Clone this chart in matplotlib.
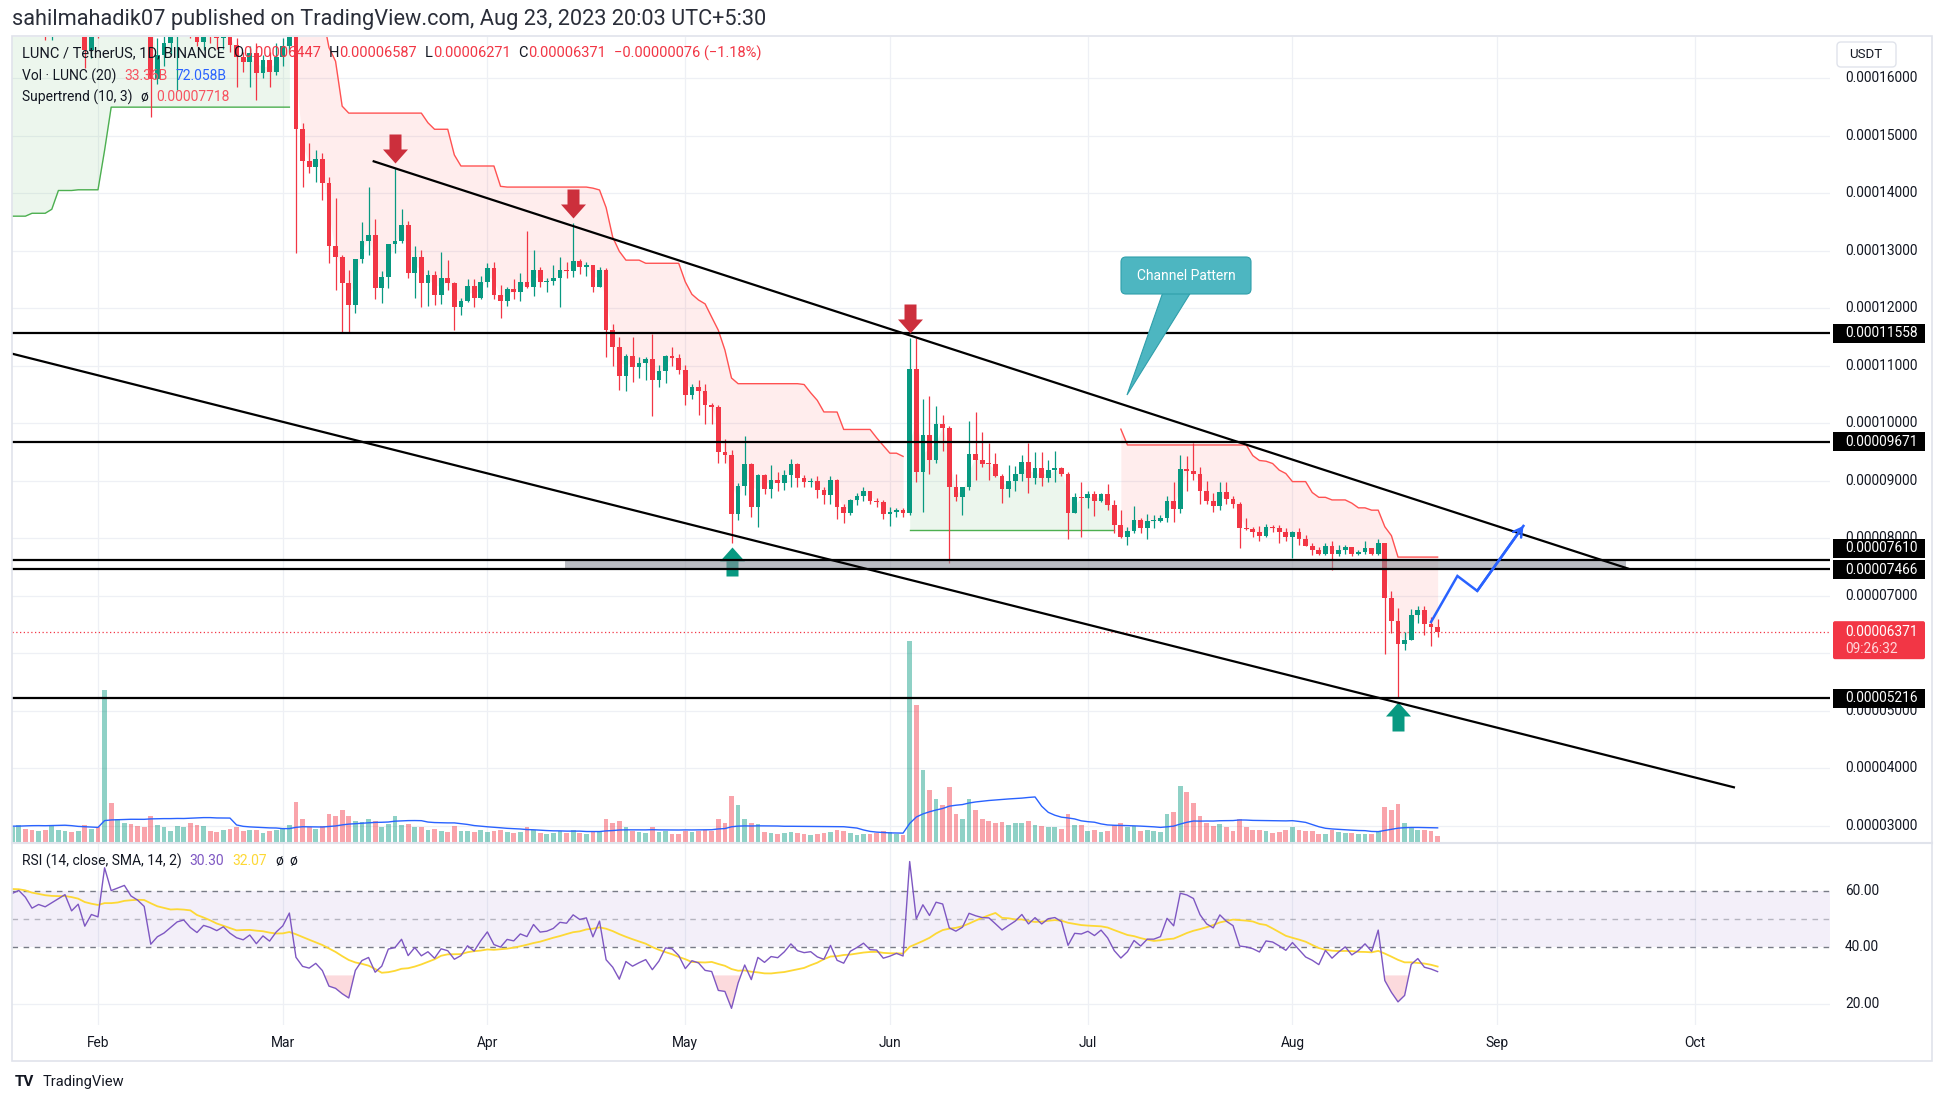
import numpy as np
import pandas as pd
import matplotlib
matplotlib.use("Agg")
import matplotlib.pyplot as plt
from matplotlib.path import Path
from matplotlib.markers import MarkerStyle
from matplotlib.patches import Rectangle, FancyBboxPatch, Polygon
from matplotlib.lines import Line2D
from matplotlib.transforms import IdentityTransform

plt.rcParams['font.family'] = ['Roboto', 'DejaVu Sans']
plt.rcParams['axes.unicode_minus'] = False

# ------------------------------------------------------------------ data
FIRST_DAY = "2023-01-01"      # index 0 of every daily series
PRICE_UNIT = 1e-5             # prices below are in units of 0.00001 USDT
OPEN_FIRST = 15.0             # open of the first candle; later opens = previous close

close_jan = [15.6, 15.2, 15.5, 16.3, 15.7, 15.9, 15.6, 16.5, 17.4, 16.8, 17.3, 18.2, 17.5, 18.6, 17.9, 18.2,
             17.6, 17.2, 17.6, 17.8, 17.5, 17.0, 17.2, 17.1, 17.3, 17.5, 17.7, 17.1, 17.4, 16.49, 17.0]
high_jan = [16.0, 15.9, 16.0, 16.7, 16.5, 16.5, 16.2, 16.8, 17.8, 17.6, 17.8, 18.6, 18.4, 19.0, 18.7, 18.7,
            18.3, 17.8, 18.2, 18.0, 17.9, 17.9, 17.6, 17.5, 17.7, 17.8, 17.9, 17.8, 17.6, 17.5, 17.2]
low_jan = [14.5, 14.4, 14.5, 15.2, 15.0, 15.0, 14.7, 15.3, 16.3, 16.1, 15.9, 16.7, 16.5, 17.1, 17.65, 17.65,
           17.25, 16.75, 17.15, 17.2, 17.0, 16.95, 16.9, 16.66, 16.66, 17.0, 16.8, 16.8, 16.9, 16.17, 16.34]

close_feb = [16.9, 20.0, 18.9, 19.1, 19.3, 18.8, 18.6, 18.3, 15.99, 16.4, 16.6, 16.9, 17.2, 17.3, 16.9, 16.63,
             16.95, 16.85, 16.7, 16.85, 16.57, 16.37, 16.28, 16.43, 16.08, 16.31, 16.11, 16.37]
high_feb = [17.3, 20.3, 20.2, 19.6, 19.6, 19.4, 19.0, 18.7, 18.4, 16.7, 16.9, 17.1, 17.4, 17.6, 17.4, 17.0,
            17.1, 17.1, 17.0, 17.1, 16.95, 16.7, 16.45, 16.55, 16.6, 16.4, 16.45, 16.6]
low_feb = [16.7, 16.8, 18.6, 18.7, 18.6, 18.5, 18.2, 17.9, 15.33, 15.9, 16.2, 16.4, 15.79, 16.9, 16.7, 16.55,
           16.49, 16.6, 16.5, 16.5, 16.45, 15.85, 16.1, 15.85, 15.62, 16.0, 15.85, 16.05]

close_mar = [16.55, 16.95, 15.11, 14.56, 14.45, 14.59, 14.17, 13.07, 12.89, 12.44, 12.05, 12.85, 13.17, 13.27,
             12.35, 12.54, 13.11, 13.16, 13.44, 12.61, 12.88, 12.44, 12.57, 12.23, 12.52, 12.43, 12.02, 12.12,
             12.39, 12.17, 12.45]
high_mar = [16.7, 17.3, 17.0, 15.21, 14.87, 14.75, 14.70, 14.28, 13.91, 12.92, 12.66, 12.86, 13.49, 14.11,
            13.55, 12.64, 13.12, 14.43, 13.73, 13.51, 13.07, 13.01, 12.66, 12.64, 12.98, 12.83, 12.46, 12.17,
            12.5, 12.50, 12.56]
low_mar = [16.2, 16.45, 12.95, 14.1, 14.34, 14.2, 13.88, 12.78, 12.31, 11.56, 11.59, 11.91, 12.78, 12.93,
           12.15, 12.08, 12.35, 12.96, 13.13, 12.53, 12.17, 12.02, 12.04, 12.06, 12.07, 12.32, 11.62, 11.87,
           12.11, 12.02, 12.15]

close_apr = [12.70, 12.23, 12.13, 12.33, 12.28, 12.45, 12.37, 12.66, 12.45, 12.47, 12.53, 12.66, 12.64, 12.81,
             12.72, 12.75, 12.37, 12.66, 11.61, 11.33, 10.81, 11.17, 10.98, 11.05, 11.11, 10.74, 10.90, 11.16,
             11.13, 10.93]
high_apr = [12.78, 12.8, 12.40, 12.37, 12.50, 12.61, 13.34, 13.01, 12.72, 12.52, 12.75, 12.89, 12.8, 13.47,
            12.85, 12.8, 12.75, 12.71, 12.69, 11.73, 11.49, 11.20, 11.5, 11.14, 11.15, 11.55, 11.01, 11.18,
            11.33, 11.2]
low_apr = [12.37, 12.15, 11.83, 12.03, 12.16, 12.13, 12.34, 12.21, 12.37, 12.27, 12.40, 12.02, 12.53, 12.54,
           12.60, 12.56, 12.28, 12.36, 11.14, 11.0, 10.57, 10.56, 10.72, 10.78, 10.74, 10.13, 10.63, 10.69,
           11.0, 10.85]

close_may = [10.49, 10.63, 10.56, 10.31, 10.27, 9.50, 9.45, 8.42, 8.90, 9.29, 8.54, 9.10, 8.86, 9.01, 8.96,
             9.10, 9.29, 9.05, 8.98, 9.0, 8.83, 8.75, 9.01, 8.54, 8.44, 8.66, 8.73, 8.81, 8.64, 8.63, 8.42]
high_may = [11.01, 10.68, 10.74, 10.68, 10.35, 10.31, 9.73, 9.53, 8.96, 9.77, 9.30, 9.11, 9.12, 9.27, 9.15,
            9.18, 9.38, 9.30, 9.1, 9.05, 9.07, 8.89, 9.08, 9.02, 8.59, 8.67, 8.78, 8.88, 8.82, 8.69, 8.66]
low_may = [10.32, 10.42, 10.14, 9.99, 9.99, 9.31, 9.31, 7.92, 8.32, 8.75, 8.37, 8.2, 8.76, 8.70, 8.82,
           8.83, 8.89, 8.89, 8.89, 8.89, 8.69, 8.59, 8.59, 8.33, 8.26, 8.40, 8.57, 8.65, 8.59, 8.54, 8.33]

close_jun = [8.45, 8.49, 8.43, 10.94, 9.15, 9.79, 9.35, 9.98, 9.91, 8.88, 8.72, 8.88, 9.46, 9.36, 9.29, 9.28,
             9.07, 8.85, 8.99, 9.12, 9.32, 9.04, 9.22, 9.04, 9.18, 9.21, 9.11, 8.44, 8.72, 8.70]
high_jun = [8.54, 8.52, 8.52, 11.47, 11.47, 10.41, 10.47, 10.3, 10.14, 9.94, 9.12, 8.89, 10.04, 10.19, 9.85,
            9.65, 9.48, 9.11, 9.27, 9.25, 9.44, 9.65, 9.50, 9.50, 9.36, 9.51, 9.23, 9.14, 8.78, 8.98]
low_jun = [8.21, 8.37, 8.36, 8.40, 8.98, 8.45, 9.12, 9.30, 9.52, 7.57, 8.64, 8.4, 8.83, 9.01, 9.23, 9.01,
           9.06, 8.61, 8.72, 8.81, 8.99, 8.79, 8.94, 8.90, 8.98, 8.98, 9.07, 7.99, 8.44, 8.02]

close_jul = [8.76, 8.65, 8.76, 8.57, 8.23, 8.01, 8.12, 8.32, 8.18, 8.30, 8.30, 8.34, 8.65, 8.51, 9.20, 9.17,
             9.11, 8.82, 8.64, 8.56, 8.80, 8.68, 8.60, 8.17, 8.15, 8.11, 8.04, 8.19, 8.17, 8.10, 8.02]
high_jul = [8.82, 8.81, 8.78, 8.94, 8.66, 8.49, 8.20, 8.55, 8.35, 8.41, 8.40, 8.40, 8.73, 8.98, 9.44, 9.43,
            9.66, 9.23, 8.99, 8.78, 8.98, 8.98, 8.73, 8.63, 8.34, 8.2, 8.21, 8.24, 8.23, 8.23, 8.17]
low_jul = [8.53, 8.39, 8.63, 8.49, 8.09, 8.0, 7.87, 8.09, 8.09, 7.98, 8.17, 8.28, 8.27, 8.27, 8.44, 8.82,
           9.01, 8.59, 8.60, 8.46, 8.49, 8.60, 8.53, 7.82, 8.14, 8.02, 7.95, 8.01, 8.11, 7.92, 7.95]

close_aug = [8.11, 7.99, 7.86, 7.80, 7.72, 7.86, 7.73, 7.79, 7.84, 7.72, 7.76, 7.82, 7.72, 7.92, 6.96, 6.56,
             6.15, 6.23, 6.66, 6.75, 6.50, 6.447, 6.371]
high_aug = [8.12, 8.18, 8.05, 7.91, 7.85, 7.91, 7.95, 7.88, 7.88, 7.85, 7.79, 7.94, 7.82, 7.98, 7.92, 7.07,
            6.78, 6.37, 6.77, 6.82, 6.82, 6.62, 6.587]
low_aug = [7.65, 7.88, 7.86, 7.70, 7.70, 7.70, 7.45, 7.69, 7.73, 7.69, 7.70, 7.73, 7.70, 7.70, 5.99, 6.34,
           5.21, 6.05, 6.22, 6.52, 6.31, 6.12, 6.271]

vol_jan = [40, 45, 50, 70, 55, 50, 40, 90, 120, 110, 95, 100, 80, 120, 90, 70, 65, 80, 70, 80, 65, 60, 55,
           60, 75, 60, 55, 50, 55, 80, 65]
vol_feb = [70, 690, 180, 110, 90, 85, 75, 70, 120, 80, 70, 55, 75, 70, 90, 80, 75, 55, 50, 60, 65, 70, 55,
           60, 60, 45, 55, 60]
vol_mar = [65, 80, 185, 110, 70, 65, 75, 130, 120, 150, 120, 100, 95, 110, 100, 70, 85, 120, 80, 85, 70, 70,
           60, 65, 55, 50, 75, 55, 55, 50, 60]
vol_apr = [50, 55, 60, 50, 45, 50, 70, 60, 45, 40, 45, 55, 45, 60, 45, 40, 55, 50, 110, 90, 100, 70, 55, 50,
           45, 70, 50, 55, 40, 40]
vol_may = [55, 50, 55, 60, 55, 110, 90, 210, 170, 110, 90, 85, 50, 45, 40, 45, 50, 45, 40, 35, 40, 45, 50,
           60, 55, 45, 35, 40, 40, 45, 55]
vol_jun = [50, 40, 35, 910, 620, 330, 240, 200, 170, 250, 130, 110, 200, 150, 110, 100, 90, 95, 80, 90, 90,
           100, 80, 75, 70, 70, 65, 130, 80, 80]
vol_jul = [55, 60, 50, 55, 80, 90, 70, 75, 55, 60, 55, 50, 130, 140, 255, 230, 180, 120, 90, 75, 85, 70, 55,
           110, 70, 60, 60, 55, 45, 50, 60]
vol_aug = [70, 60, 55, 55, 40, 40, 60, 50, 45, 45, 40, 40, 40, 55, 160, 150, 175, 90, 70, 60, 60, 55, 33.36]

month_labels = ["Feb", "Mar", "Apr", "May", "Jun", "Jul", "Aug", "Sep", "Oct"]
price_ticks = list(range(3, 17))                 # x 0.00001
level_prices = [11.558, 9.671, 7.610, 7.466, 5.216]
rsi_ticks = [60, 40, 20]

# ------------------------------------------------------------------ series
close = np.array(close_jan + close_feb + close_mar + close_apr + close_may + close_jun + close_jul + close_aug)
high = np.array(high_jan + high_feb + high_mar + high_apr + high_may + high_jun + high_jul + high_aug)
low = np.array(low_jan + low_feb + low_mar + low_apr + low_may + low_jun + low_jul + low_aug)
vol = np.array(vol_jan + vol_feb + vol_mar + vol_apr + vol_may + vol_jun + vol_jul + vol_aug, float)
n = len(close)
opn = np.r_[OPEN_FIRST, close[:-1]]
high = np.maximum(high, np.maximum(opn, close))
low = np.minimum(low, np.minimum(opn, close))
x = np.arange(n)
t0 = pd.Timestamp(FIRST_DAY)
def day(s):
    return (pd.Timestamp(s) - t0).days
month_idx = [day(f"2023-{m:02d}-01") for m in range(2, 11)]

# ---- indicators (same definitions as the TradingView built-ins)
tr = np.empty(n)
tr[0] = high[0] - low[0]
tr[1:] = np.maximum.reduce([high[1:] - low[1:], np.abs(high[1:] - close[:-1]), np.abs(low[1:] - close[:-1])])
ATR_LEN, MULT = 10, 3.0
atr = np.full(n, np.nan)
atr[ATR_LEN - 1] = tr[:ATR_LEN].mean()
for i in range(ATR_LEN, n):
    atr[i] = (atr[i - 1] * (ATR_LEN - 1) + tr[i]) / ATR_LEN
hl2 = (high + low) / 2
lb = hl2 - MULT * atr
ub = hl2 + MULT * atr
lbf = np.full(n, np.nan); ubf = np.full(n, np.nan)
st = np.full(n, np.nan); sdir = np.zeros(n, int)
for i in range(n):
    if np.isnan(atr[i]):
        continue
    if i > 0 and not np.isnan(atr[i - 1]):
        lbf[i] = lb[i] if (lb[i] > lbf[i - 1] or close[i - 1] < lbf[i - 1]) else lbf[i - 1]
        ubf[i] = ub[i] if (ub[i] < ubf[i - 1] or close[i - 1] > ubf[i - 1]) else ubf[i - 1]
        if st[i - 1] == ubf[i - 1]:
            d = -1 if close[i] > ubf[i] else 1
        else:
            d = 1 if close[i] < lbf[i] else -1
    else:
        lbf[i], ubf[i] = lb[i], ub[i]
        d = -1          # the market was already in an up-trend before this window
    sdir[i] = d
    st[i] = lbf[i] if d == -1 else ubf[i]

RSI_LEN = 14
chg = np.r_[0.0, np.diff(close)]
gain = np.clip(chg, 0, None); loss = np.clip(-chg, 0, None)
ag = np.full(n, np.nan); al = np.full(n, np.nan)
ag[RSI_LEN] = gain[1:RSI_LEN + 1].mean(); al[RSI_LEN] = loss[1:RSI_LEN + 1].mean()
for i in range(RSI_LEN + 1, n):
    ag[i] = (ag[i - 1] * (RSI_LEN - 1) + gain[i]) / RSI_LEN
    al[i] = (al[i - 1] * (RSI_LEN - 1) + loss[i]) / RSI_LEN
rsi = 100 - 100 / (1 + ag / al)
rsi_ma = pd.Series(rsi).rolling(14, min_periods=1).mean().to_numpy()
vol_ma = pd.Series(vol).rolling(20, min_periods=1).mean().to_numpy()

# ------------------------------------------------------------------ figure
W, H, DPI = 1946, 1104, 100
fig = plt.figure(figsize=(W / DPI, H / DPI), dpi=DPI)
fig.patch.set_facecolor("white")
ID = IdentityTransform()

def axes_px(x0, y0, x1, y1):
    a = fig.add_axes([x0 / W, 1 - y1 / H, (x1 - x0) / W, (y1 - y0) / H])
    a.set_axis_off()
    a.patch.set_alpha(0)
    return a

PL, PR, PT, PB, RB = 12, 1830, 37, 843, 1025
axv = axes_px(PL, PT, PR, PB)
ax = axes_px(PL, PT, PR, PB)
axr = axes_px(PL, PB, PR, RB)
axv.set_zorder(1); ax.set_zorder(2); axr.set_zorder(2)

XL, XR = 17.97, 293.46
P_LO, P_HI = 2.696, 16.713
V_MAX = 806 * 4.5
for a in (axv, ax, axr):
    a.set_xlim(XL, XR)
ax.set_ylim(P_LO, P_HI)
axv.set_ylim(0, V_MAX)
axr.set_ylim(12.47, 76.8)

GRID = "#eef0f5"
def p2v(p):
    return (p - P_LO) / (P_HI - P_LO) * V_MAX
for p in price_ticks:
    axv.axhline(p2v(p), color=GRID, lw=0.9, zorder=0)
for m in month_idx:
    axv.axvline(m, color=GRID, lw=0.9, zorder=0)
    axr.axvline(m, color=GRID, lw=0.9, zorder=0)
axr.axhline(20, color=GRID, lw=0.9, zorder=0)

# volume
UP_C, DN_C = "#089981", "#f23645"
up = close >= opn
axv.bar(x, vol, width=0.72, color=np.where(up, UP_C, DN_C), alpha=0.45, lw=0, zorder=2)
axv.plot(x, vol_ma, color="#2962ff", lw=1.0, zorder=3)

# supertrend
mid = (opn + close) / 2
runs = []
i = 0
while i < n:
    if np.isnan(st[i]):
        i += 1; continue
    j = i
    while j + 1 < n and not np.isnan(st[j + 1]) and sdir[j + 1] == sdir[i]:
        j += 1
    runs.append((i, j, sdir[i]))
    i = j + 1
for a0, a1, d in runs:
    colr = "#4caf50" if d == -1 else "#ff5252"
    xs = x[a0:a1 + 1]
    ax.fill_between(xs, st[a0:a1 + 1], mid[a0:a1 + 1], color=colr, alpha=0.1, lw=0, zorder=1)
    ax.plot(xs, st[a0:a1 + 1], color=colr, lw=1.0, zorder=2)

# candles
cols = np.where(up, UP_C, DN_C)
ax.vlines(x, low, high, colors=cols, lw=0.9, zorder=4)
ax.bar(x, np.maximum(np.abs(close - opn), 0.02), bottom=np.minimum(opn, close), width=0.72,
       color=cols, lw=0, zorder=5)

# current price line
ax.axhline(close[-1], color=DN_C, lw=0.9, ls=(0, (1, 2)), zorder=3)

# ---- drawings
for p in level_prices:
    ax.axhline(p, color="black", lw=1.6, zorder=8)
band_x0, band_x1 = day("2023-04-12") + 0.77, day("2023-09-20") + 0.5
ax.add_patch(Rectangle((band_x0, 7.466), band_x1 - band_x0, 7.610 - 7.466, fc="#8f929b", alpha=0.6,
                       lw=0, zorder=7))
# channel lines (anchor points: date index, price)
up_a, up_b = (72.62, 14.557), (263.0, 7.463)
lo_a, lo_b = (17.0, 11.234), (279.06, 3.660)
ax.plot([up_a[0], up_b[0]], [up_a[1], up_b[1]], color="black", lw=1.6, zorder=8, solid_capstyle="butt")
ax.plot([lo_a[0], lo_b[0]], [lo_a[1], lo_b[1]], color="black", lw=1.6, zorder=8, solid_capstyle="butt")

# projected path
path_pts = [(day("2023-08-22"), 6.54), (day("2023-08-26"), 7.34), (day("2023-08-29"), 7.08),
            (day("2023-09-05"), 8.21)]
px_, py_ = zip(*path_pts)
ax.plot(px_, py_, color="#2962ff", lw=1.8, zorder=9, solid_joinstyle="miter")
ax.annotate("", xy=path_pts[-1], xytext=path_pts[-2],
            arrowprops=dict(arrowstyle="->,head_length=0.6,head_width=0.35", color="#2962ff", lw=1.8,
                            shrinkA=0, shrinkB=0), zorder=9)

# arrow marks
def arrow_marker(pointing_down, gap=5):
    hw, sw, hh, total = 12.5, 6.0, 14.0, 29.0
    v = [(0, 0), (hw, hh), (sw, hh), (sw, total), (-sw, total), (-sw, hh), (-hw, hh), (0, 0)]
    v = [(a, b + gap) for a, b in v]
    if pointing_down is False:
        v = [(a, -b) for a, b in v]
    codes = [Path.MOVETO] + [Path.LINETO] * 6 + [Path.CLOSEPOLY]
    m = MarkerStyle(Path(v, codes))
    return m, 2 * (total + gap) * 72 / DPI

for dstr in ["2023-03-18", "2023-04-14", "2023-06-04"]:
    k = day(dstr)
    mk, ms = arrow_marker(True)
    ax.plot([k], [high[k]], marker=mk, ms=ms, color="#cc2f3c", mec="none", zorder=10, clip_on=False)
for dstr in ["2023-05-08", "2023-08-17"]:
    k = day(dstr)
    mk, ms = arrow_marker(False, gap=4)
    ax.plot([k], [low[k]], marker=mk, ms=ms, color="#089981", mec="none", zorder=6.8, clip_on=False)

# callout
def ytop(y):
    return H - y
fig.add_artist(Polygon([(1163, ytop(292)), (1191, ytop(292)), (1127, ytop(395))], closed=True,
                       fc="#4db6c1", ec="#2f9fab", lw=0.8, transform=ID, zorder=20))
fig.add_artist(FancyBboxPatch((1121, ytop(294)), 130, 37, boxstyle="round,pad=0,rounding_size=5",
                              fc="#4db6c1", ec="#2f9fab", lw=0.8, transform=ID, zorder=21))
fig.text(1186, ytop(275.5), "Channel Pattern", color="white", fontsize=10, ha="center", va="center",
         transform=ID, zorder=22)

# ---- RSI pane
axr.axhspan(40, 60, color="#7e57c2", alpha=0.09, lw=0, zorder=1)
axr.axhline(60, color="#787b86", lw=1.0, ls=(0, (4, 4)), zorder=2)
axr.axhline(40, color="#787b86", lw=1.0, ls=(0, (4, 4)), zorder=2)
axr.axhline(50, color="#787b86", lw=1.0, ls=(0, (4, 4)), alpha=0.5, zorder=2)
axr.fill_between(x, rsi, 30, where=rsi < 30, interpolate=True, color="#f23645", alpha=0.18, lw=0, zorder=2)
axr.plot(x, rsi, color="#7e57c2", lw=1.0, zorder=4)
axr.plot(x, rsi_ma, color="#fdd835", lw=1.3, zorder=3)

# ------------------------------------------------------------------ texts / frame
def ydisp(a, v):
    return a.transData.transform((XL, v))[1]
def xdisp(a, v):
    return a.transData.transform((v, a.get_ylim()[0]))[0]

TXT = "#131722"
AXF = 9.9
yc_last = ydisp(ax, close[-1])
red_box = (yc_last - 27.5, yc_last + 10.5)      # display-y span of the last-price label
for p in price_ticks:
    yt = ydisp(ax, p)
    if red_box[0] + 3 < yt < red_box[1] - 3:
        continue                                    # hidden behind the last-price label
    fig.text(1845, yt, f"{p * PRICE_UNIT:.8f}", fontsize=AXF, color=TXT, va="center",
             ha="left", transform=ID, zorder=5)
for r in rsi_ticks:
    fig.text(1845, ydisp(axr, r), f"{r:.2f}", fontsize=AXF, color=TXT, va="center", ha="left",
             transform=ID, zorder=5)
for m, lab in zip(month_idx, month_labels):
    fig.text(xdisp(ax, m), ytop(1043), lab, fontsize=AXF, color=TXT, va="center", ha="center", transform=ID)

label_shift = {7.610: 12, 7.466: -1}   # px, to keep the two close labels apart
for p in level_prices:
    yc = ydisp(ax, p) + label_shift.get(p, 0)
    fig.add_artist(Rectangle((1833, yc - 9.5), 92, 19, fc="black", ec="none", transform=ID, zorder=30))
    fig.text(1845, yc, f"{p * PRICE_UNIT:.8f}", fontsize=AXF, color="white", va="center", ha="left",
             transform=ID, zorder=31)
fig.add_artist(FancyBboxPatch((1833, red_box[0]), 92, red_box[1] - red_box[0],
                              boxstyle="round,pad=0,rounding_size=2",
                              fc="#f23645", ec="none", transform=ID, zorder=30))
fig.text(1845, yc_last, f"{close[-1] * PRICE_UNIT:.8f}", fontsize=AXF, color="white", va="center",
         ha="left", transform=ID, zorder=31)
fig.text(1845, yc_last - 17.5, "09:26:32", fontsize=AXF, color="#ffd6da", va="center", ha="left",
         transform=ID, zorder=31)

fig.add_artist(FancyBboxPatch((1837, ytop(67)), 59, 25, boxstyle="round,pad=0,rounding_size=4",
                              fc="white", ec="#e0e3eb", lw=1, transform=ID, zorder=30))
fig.text(1866, ytop(54.5), "USDT", fontsize=9.5, color=TXT, va="center", ha="center", transform=ID, zorder=31)

# frame
FR = "#e0e3eb"
fig.add_artist(Rectangle((12, ytop(1061)), 1920, 1061 - 36, fill=False, ec=FR, lw=1.2, transform=ID, zorder=40))
fig.add_artist(Line2D([12, 1932], [ytop(843), ytop(843)], color=FR, lw=1.5, transform=ID, zorder=40))

renderer = fig.canvas.get_renderer()
def pieces(px, py, items, size, target_w=None):
    def render(sz):
        arts, cur = [], px
        for s, c, gap in items:
            t = fig.text(cur, ytop(py), s, color=c, fontsize=sz, va="center", ha="left", transform=ID, zorder=50)
            cur = t.get_window_extent(renderer).x1 + gap
            arts.append(t)
        return arts, cur - px
    arts, w = render(size)
    if target_w:
        for a_ in arts:
            a_.remove()
        render(size * target_w / w)

RED = "#f23645"
pieces(12, 19, [("sahilmahadik07 published on TradingView.com, Aug 23, 2023 20:03 UTC+5:30", "#2a2e39", 0)],
       12, target_w=751)
pieces(22, 53, [("LUNC / TetherUS, 1D, BINANCE", TXT, 8), ("O", TXT, 0), ("0.00006447", RED, 8),
                ("H", TXT, 0), ("0.00006587", RED, 8), ("L", TXT, 0), ("0.00006271", RED, 8),
                ("C", TXT, 0), ("0.00006371", RED, 8), ("\u22120.00000076 (\u22121.18%)", RED, 0)],
       10, target_w=741)
pieces(22, 76, [("Vol \u00b7 LUNC (20)", TXT, 8), ("33.36B", "#f7525f", 8), ("72.058B", "#2962ff", 0)], 10)
pieces(22, 97, [("Supertrend (10, 3)", TXT, 8), ("\u00f8", TXT, 8), ("0.00007718", "#f7525f", 0)], 10)
pieces(22, 861, [("RSI (14, close, SMA, 14, 2)", TXT, 8), ("30.30", "#7e57c2", 8), ("32.07", "#fdd835", 8),
                 ("\u00f8", TXT, 6), ("\u00f8", TXT, 0)], 10)

# footer
fig.text(15, ytop(1082), "TV", fontsize=11, fontweight="bold", color=TXT, va="center", ha="left", transform=ID)
fig.text(43, ytop(1082), "TradingView", fontsize=10.5, color=TXT, va="center", ha="left", transform=ID)

fig.savefig("out.png", dpi=DPI, facecolor="white")
